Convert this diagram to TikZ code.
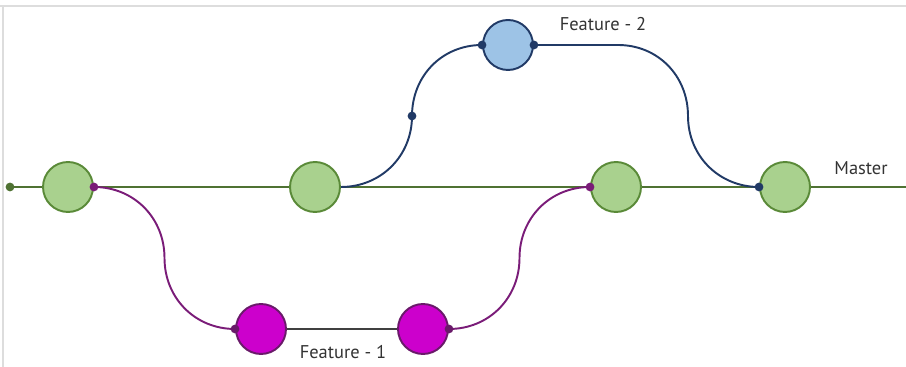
\documentclass[tikz,border=0pt]{standalone}
\usepackage{fontspec}
\setmainfont{PT Sans}
\usepackage{tikz}

\definecolor{mastergreen}{HTML}{4F7233}
\definecolor{commitgreen}{HTML}{A9D18E}
\definecolor{rimgreen}{HTML}{5A8A38}
\definecolor{featblue}{HTML}{9DC3E6}
\definecolor{navy}{HTML}{213A66}
\definecolor{featmagenta}{HTML}{CC00CC}
\definecolor{rimpurple}{HTML}{6A1A6A}
\definecolor{featpurple}{HTML}{7A1C78}
\definecolor{framegray}{HTML}{DDDDDD}

\begin{document}
\begin{tikzpicture}[x = 0.02cm, y = 0.02cm,
  commit/.style = {circle, minimum size = 1cm, inner sep = 0pt, line width = 1.1pt},
  master/.style = {commit, draw = rimgreen, fill = commitgreen},
  second/.style = {commit, draw = navy, fill = featblue},
  first/.style = {commit, draw = rimpurple, fill = featmagenta},
  joint/.style = {circle, fill, inner sep = 0pt, minimum size = 5pt},
  branchname/.style = {text = black!80, font = \fontsize{10.5}{12}\selectfont}]
  \useasboundingbox (0, 0) rectangle (906, 367);
  \draw[framegray, line width = .6pt] (0, 361) -- (906, 361);
  \draw[framegray, line width = .6pt] (3, 0) -- (3, 361);
  % master line
  \coordinate (start) at (10, 180);
  \coordinate (end) at (906, 180);
  \draw[mastergreen, line width = 1.1pt] (start) -- (end);
  \node[master] at (68, 180) (c1) {};
  \node[master] at (315, 180) (c2) {};
  \node[master] at (616, 180) (c3) {};
  \node[master] at (785, 180) (c4) {};
  \node[second] at (508, 322) (b) {};
  \node[first] at (261, 38) (m1) {};
  \node[first] at (423, 38) (m2) {};
  \coordinate (mid) at (412, 251);
  \coordinate (bend1) at (618, 322);
  \coordinate (bend2) at (688, 251);
  \coordinate (down1) at (164.5, 109);
  \coordinate (up1) at (519.5, 109);
  % feature - 1
  \draw[featpurple, line width = 1.1pt] (c1.east) .. controls +(40, 0) and +(0, 40) .. (down1)
    .. controls +(0, -40) and +(-40, 0) .. (m1.west);
  \draw[black!75, line width = 1.1pt] (m1) -- (m2);
  \draw[featpurple, line width = 1.1pt] (m2.east) .. controls +(40, 0) and +(0, -40) .. (up1)
    .. controls +(0, 40) and +(-40, 0) .. (c3.west);
  % feature - 2
  \draw[navy, line width = 1.1pt] (c2.east) .. controls +(40, 0) and +(0, -40) .. (mid)
    .. controls +(0, 40) and +(-40, 0) .. (b.west);
  \draw[navy, line width = 1.1pt] (b.east) -- (bend1) .. controls +(40, 0) and +(0, 40) .. (bend2)
    .. controls +(0, -40) and +(-40, 0) .. (c4.west);
  \node[joint, mastergreen] at (start) {};
  \node[joint, featpurple] at (c1.east) {};
  \node[joint, featpurple] at (c3.west) {};
  \node[joint, rimpurple] at (m1.west) {};
  \node[joint, rimpurple] at (m2.east) {};
  \node[joint, navy] at (mid) {};
  \node[joint, navy] at (b.west) {};
  \node[joint, navy] at (b.east) {};
  \node[joint, navy] at (c4.west) {};
  \node[branchname] at (603, 343) (l2) {Feature - 2};
  \node[branchname] at (861, 199) (l0) {Master};
  \node[branchname] at (343, 15) (l1) {Feature - 1};
\end{tikzpicture}
\end{document}
